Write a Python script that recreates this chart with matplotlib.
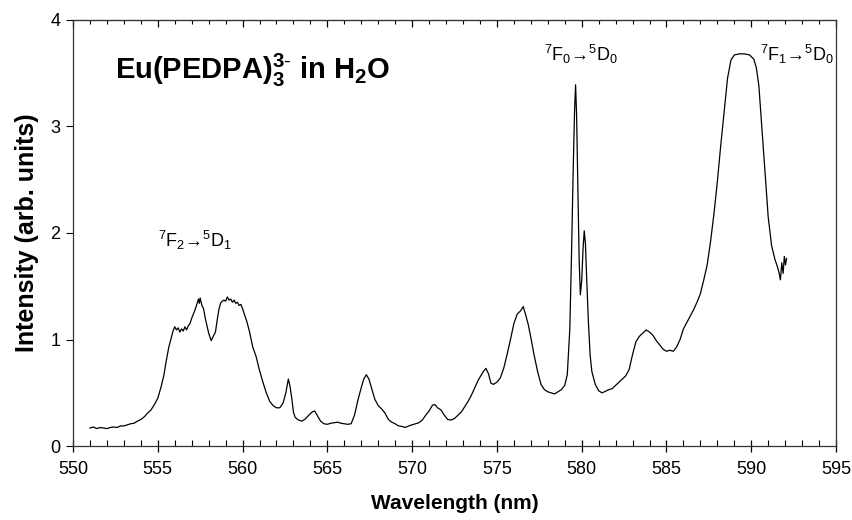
import numpy as np
import matplotlib
matplotlib.use("Agg")
import matplotlib.pyplot as plt
from matplotlib.ticker import MultipleLocator

plt.rcParams['font.family'] = ['Liberation Sans', 'DejaVu Sans']
plt.rcParams['mathtext.fontset'] = 'custom'
plt.rcParams['mathtext.rm'] = 'Liberation Sans'
plt.rcParams['mathtext.bf'] = 'Liberation Sans:bold'

# emission spectrum (wavelength nm, intensity arb. units)
wavelength = [
    551.0, 551.2, 551.4, 551.6, 551.8, 552.0, 552.2, 552.4, 552.6, 552.8,
    553.0, 553.2, 553.4, 553.6, 553.8, 554.0, 554.2, 554.4, 554.6, 554.8,
    555.0, 555.2, 555.35, 555.5, 555.65, 555.8, 555.9, 556.0, 556.1, 556.2,
    556.3, 556.4, 556.5, 556.6, 556.7, 556.8, 556.9, 557.0, 557.1, 557.2,
    557.3, 557.4, 557.45, 557.5, 557.6, 557.7, 557.8, 557.9, 558.0, 558.15,
    558.3, 558.4, 558.5, 558.6, 558.7, 558.8, 558.9, 559.0, 559.1, 559.2,
    559.3, 559.4, 559.5, 559.6, 559.7, 559.8, 559.9, 560.0, 560.1, 560.25,
    560.4, 560.6, 560.8, 561.0, 561.2, 561.4, 561.6, 561.8, 562.0, 562.2,
    562.4, 562.55, 562.7, 562.8, 562.9, 563.0, 563.1, 563.3, 563.5, 563.7,
    563.9, 564.1, 564.25, 564.4, 564.6, 564.8, 565.0, 565.2, 565.4, 565.6,
    565.8, 566.0, 566.2, 566.4, 566.6, 566.8, 567.0, 567.15, 567.3, 567.45,
    567.6, 567.8, 568.0, 568.2, 568.4, 568.6, 568.8, 569.0, 569.2, 569.4,
    569.6, 569.8, 570.0, 570.2, 570.4, 570.6, 570.8, 571.0, 571.2, 571.35,
    571.5, 571.7, 571.9, 572.1, 572.3, 572.5, 572.7, 572.9, 573.1, 573.3,
    573.5, 573.7, 573.9, 574.05, 574.2, 574.35, 574.5, 574.65, 574.8, 575.0,
    575.2, 575.4, 575.6, 575.8, 576.0, 576.2, 576.4, 576.55, 576.7, 576.85,
    577.0, 577.2, 577.4, 577.6, 577.8, 578.0, 578.2, 578.4, 578.6, 578.8,
    579.0, 579.15, 579.3, 579.4, 579.5, 579.58, 579.64, 579.7, 579.78, 579.85,
    579.92, 580.0, 580.08, 580.15, 580.22, 580.3, 580.4, 580.5, 580.6, 580.8,
    581.0, 581.2, 581.4, 581.6, 581.8, 582.0, 582.2, 582.4, 582.6, 582.8,
    583.0, 583.2, 583.4, 583.6, 583.8, 584.0, 584.2, 584.4, 584.6, 584.8,
    585.0, 585.2, 585.4, 585.6, 585.8, 586.0, 586.2, 586.4, 586.6, 586.8,
    587.0, 587.2, 587.4, 587.6, 587.8, 588.0, 588.2, 588.4, 588.6, 588.8,
    589.0, 589.3, 589.6, 589.9, 590.15, 590.3, 590.45, 590.6, 590.8, 591.0,
    591.2, 591.4, 591.55, 591.65, 591.72, 591.8, 591.88, 591.95, 592.02, 592.08,
]
intensity = [
    0.17, 0.18, 0.165, 0.175, 0.17, 0.165, 0.175, 0.18, 0.175, 0.19,
    0.19, 0.20, 0.21, 0.215, 0.235, 0.25, 0.275, 0.31, 0.34, 0.39,
    0.45, 0.56, 0.66, 0.80, 0.93, 1.02, 1.08, 1.12, 1.09, 1.11,
    1.07, 1.10, 1.08, 1.12, 1.09, 1.13, 1.15, 1.20, 1.24, 1.28,
    1.33, 1.38, 1.34, 1.39, 1.32, 1.29, 1.20, 1.13, 1.06, 0.99,
    1.04, 1.07, 1.18, 1.28, 1.34, 1.36, 1.37, 1.36, 1.40, 1.37,
    1.38, 1.35, 1.37, 1.34, 1.35, 1.32, 1.33, 1.29, 1.24, 1.17,
    1.08, 0.93, 0.84, 0.71, 0.60, 0.50, 0.42, 0.38, 0.36, 0.36,
    0.41, 0.50, 0.63, 0.56, 0.45, 0.32, 0.27, 0.245, 0.235, 0.255,
    0.29, 0.32, 0.33, 0.29, 0.235, 0.21, 0.205, 0.215, 0.22, 0.225,
    0.215, 0.21, 0.205, 0.21, 0.29, 0.43, 0.55, 0.63, 0.67, 0.63,
    0.55, 0.44, 0.38, 0.35, 0.31, 0.25, 0.225, 0.21, 0.19, 0.185,
    0.175, 0.19, 0.20, 0.21, 0.22, 0.245, 0.29, 0.33, 0.385, 0.39,
    0.36, 0.34, 0.29, 0.25, 0.245, 0.26, 0.29, 0.32, 0.37, 0.42,
    0.48, 0.55, 0.62, 0.66, 0.70, 0.73, 0.68, 0.59, 0.58, 0.60,
    0.64, 0.73, 0.86, 1.00, 1.15, 1.24, 1.27, 1.31, 1.23, 1.14,
    1.02, 0.85, 0.70, 0.58, 0.53, 0.51, 0.50, 0.49, 0.51, 0.53,
    0.57, 0.67, 1.10, 1.80, 2.60, 3.15, 3.39, 3.10, 2.40, 1.75,
    1.42, 1.55, 1.85, 2.02, 1.90, 1.55, 1.15, 0.85, 0.70, 0.58,
    0.52, 0.50, 0.515, 0.53, 0.54, 0.57, 0.60, 0.63, 0.66, 0.72,
    0.86, 0.98, 1.03, 1.06, 1.09, 1.07, 1.04, 0.99, 0.95, 0.91,
    0.89, 0.90, 0.89, 0.93, 1.00, 1.10, 1.16, 1.22, 1.28, 1.35,
    1.43, 1.56, 1.70, 1.92, 2.18, 2.48, 2.82, 3.13, 3.45, 3.62,
    3.67, 3.68, 3.68, 3.67, 3.63, 3.55, 3.38, 3.05, 2.60, 2.15,
    1.88, 1.75, 1.68, 1.62, 1.56, 1.72, 1.62, 1.78, 1.70, 1.76,
]

x_ticks = [550, 555, 560, 565, 570, 575, 580, 585, 590, 595]
y_ticks = [0, 1, 2, 3, 4]

fig = plt.figure(figsize=(8.53, 5.2), dpi=100)
ax = fig.add_axes([0.0856, 0.142, 0.8945, 0.82])

ax.plot(wavelength, intensity, color='black', linewidth=0.9)

ax.set_xlim(550, 595)
ax.set_ylim(0, 4)
ax.set_xticks(x_ticks)
ax.set_yticks(y_ticks)
ax.xaxis.set_minor_locator(MultipleLocator(1))

ax.tick_params(axis='x', which='major', direction='inout', length=9, width=0.9,
               labelsize=13, pad=6)
ax.tick_params(axis='x', which='minor', direction='in', length=4, width=0.8)
ax.tick_params(axis='y', which='major', direction='out', length=5, width=0.8,
               labelsize=13, pad=4)
for s in ax.spines.values():
    s.set_linewidth(0.9)
    s.set_color('#333333')

# top axis: inward ticks only
top = ax.secondary_xaxis('top')
top.set_xticks(x_ticks)
top.xaxis.set_minor_locator(MultipleLocator(1))
top.tick_params(which='major', direction='in', length=5, width=0.9, labeltop=False)
top.tick_params(which='minor', direction='in', length=3, width=0.8)
top.spines['top'].set_color('#333333')

ax.set_xlabel('Wavelength (nm)', fontsize=15, fontweight='bold', labelpad=12)
ax.set_ylabel('Intensity (arb. units)', fontsize=18, fontweight='bold')
ax.yaxis.set_label_coords(-0.044, 0.5)

ax.text(552.5, 3.44, r'Eu(PEDPA)$\mathbf{_3^{3\text{-}}}$ in H$\mathbf{_2}$O',
        fontsize=21, fontweight='bold', ha='left', va='baseline')
ax.text(555.0, 1.87, r'$^7$F$_2$→$^5$D$_1$', fontsize=13, ha='left', va='baseline')
ax.text(577.8, 3.61, r'$^7$F$_0$→$^5$D$_0$', fontsize=13, ha='left', va='baseline')
ax.text(590.5, 3.61, r'$^7$F$_1$→$^5$D$_0$', fontsize=13, ha='left', va='baseline')

fig.savefig('out.png', dpi=100)
